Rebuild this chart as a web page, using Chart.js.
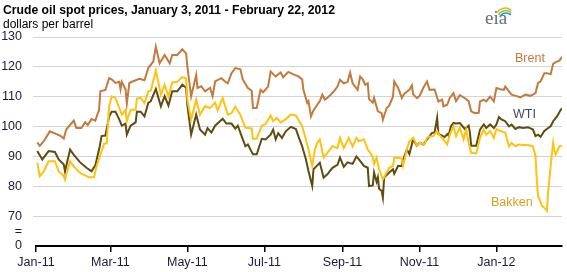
<!DOCTYPE html>
<html>
<head>
<meta charset="utf-8">
<script src="https://cdn.jsdelivr.net/npm/chart.js@4.4.0/dist/chart.umd.min.js"></script>
<style>
  body { margin: 0; background: #fff; }
  #wrap { width: 567px; height: 272px; }
</style>
</head>
<body>
<div id="wrap"><canvas id="oilChart" width="567" height="272"></canvas></div>
<script>
// days counted from Jan 1, 2011
const monthDays = [0, 59, 120, 181, 243, 304, 365];
const monthLabels = ['Jan-11', 'Mar-11', 'May-11', 'Jul-11', 'Sep-11', 'Nov-11', 'Jan-12'];
const yTicks = [60, 65, 70, 80, 90, 100, 110, 120, 130];
const yTickLabels = ['0', '=', '70', '80', '90', '100', '110', '120', '130'];

const brentDays = [1, 3, 6, 11, 19, 22, 24, 30, 32, 36, 39, 41, 44, 47, 50, 51, 55, 58, 60, 63, 66, 67, 68, 71, 72, 74, 76, 79, 82, 86,
  89, 93, 95, 98, 102, 106, 108, 112, 116, 119, 120, 123, 127, 128, 131, 134, 138, 140, 142, 147, 150, 152, 155, 158, 162, 164, 168, 171, 172, 175,
  178, 180, 184, 186, 190, 194, 196, 200, 204, 208, 211, 212, 215, 216, 218, 220, 223, 225, 227, 229, 232, 236, 239, 241, 244, 247, 249, 251, 255, 257,
  259, 261, 263, 264, 267, 268, 271, 274, 275, 278, 280, 283, 284, 287, 290, 292, 296, 298, 299, 302, 304, 307, 310, 312, 316, 319, 322, 323, 326, 328,
  331, 333, 336, 340, 343, 345, 348, 351, 352, 355, 357, 360, 363, 365, 368, 371, 372, 375, 377, 381, 384, 388, 392, 396, 398, 400, 403, 405, 408, 410,
  412, 415, 417];
const brentPrice = [94.7, 93.5, 95, 98.4, 97, 96, 99, 102, 99.5, 99.5, 101.5, 100.5, 102.5, 102, 105.6, 111.8, 112.3, 116.2, 115.8, 114.6, 115, 112.5, 115, 112.5, 107.7, 114.6, 115, 115.5, 116, 115.5,
  119.6, 121.8, 126.8, 121.2, 124, 121.2, 124, 124, 125.9, 124.5, 120.1, 110.1, 117.3, 112.9, 113.5, 111.8, 113, 110.2, 115.1, 116.2, 115, 114.5, 117.9, 119.6, 119.2, 115.7, 112.9, 112, 106.2, 106.2,
  112.3, 111.5, 113.4, 118.4, 116.8, 118.1, 116.5, 118.3, 117.5, 116.8, 115.8, 112.3, 107.9, 108.5, 103.4, 105.5, 107.3, 108.5, 110.7, 109, 110, 111.7, 113.4, 115.7, 114.5, 114.9, 118.1, 114.5, 112.3, 116.8,
  115.8, 114, 114.5, 109.2, 108, 109.6, 105.1, 104.5, 102.3, 106.2, 107, 110, 115.1, 113, 109.6, 111, 112.3, 113.8, 110.8, 109.5, 110.2, 112.9, 115.1, 112.3, 112.4, 108.4, 109, 106.8, 107.3, 109.6,
  111.2, 108.5, 110.5, 109.5, 108.5, 105.1, 104.5, 104.6, 108.4, 109, 108.4, 110, 108.4, 112.9, 112.5, 112.3, 113.4, 111.8, 110.7, 110.2, 109.8, 110.7, 110.3, 111.2, 114.6, 115.1, 117.9, 117.9, 117.5, 121,
  121.6, 122.1, 123.4];

const wtiDays = [1, 5, 10, 15, 18, 22, 23, 27, 30, 35, 40, 44, 47, 50, 52, 55, 58, 60, 63, 66, 68, 71, 72, 75, 79, 80, 83, 86, 89,
  91, 95, 99, 102, 105, 108, 112, 116, 119, 120, 123, 127, 130, 134, 136, 139, 142, 148, 151, 155, 158, 160, 163, 166, 168, 172, 175, 179, 182, 186,
  188, 190, 192, 195, 198, 202, 206, 208, 211, 214, 216, 219, 220, 223, 225, 228, 231, 235, 239, 241, 244, 247, 251, 254, 256, 260, 263, 264, 267, 268,
  270, 271, 272, 274, 275, 276, 280, 283, 284, 287, 290, 291, 294, 296, 299, 302, 304, 307, 311, 314, 316, 318, 319, 322, 324, 326, 327, 329, 331, 333,
  336, 340, 343, 344, 345, 349, 352, 355, 357, 360, 363, 365, 367, 369, 372, 375, 377, 380, 383, 386, 390, 394, 396, 398, 400, 403, 405, 408, 410, 413,
  416, 417];
const wtiPrice = [91.8, 89, 91.8, 91.5, 89, 87.3, 85, 92.3, 90.5, 88, 86.2, 85, 87, 92.3, 96.8, 97, 103.4, 105, 105, 102.4, 100.3, 101, 97.3, 100.3, 101.4, 105, 105, 103.4, 107.9,
  108.5, 112.6, 106.8, 110.2, 107, 111.8, 111.8, 114, 113, 107.3, 97.3, 104, 99, 97.3, 99.5, 98, 100.3, 102.6, 101, 101, 99.3, 100.3, 96.8, 93.4, 94, 90.7, 90.7, 95.9, 95.7, 97.3,
  99, 95.7, 97.8, 96.2, 98.4, 99.9, 99.2, 96.8, 93.4, 89, 85.1, 80.1, 85.7, 87, 87.9, 82.9, 84, 86.2, 87.2, 89.6, 86.5, 88, 87.5, 90, 89, 86.8, 86.2, 80.1, 80.3, 84.6,
  81.5, 83, 79.2, 78.5, 76.2, 82.9, 84.6, 85.7, 84.2, 86.8, 86.8, 88.8, 92.3, 90.8, 95.7, 93.6, 94.6, 94, 96.2, 97.9, 98, 102.9, 97.5, 97, 96.5, 97.5, 97, 100.1, 101.2, 101,
  101.2, 99.2, 100.3, 98, 93.6, 93.6, 99, 100.7, 99.5, 100.7, 99.5, 100.7, 103.2, 102.4, 101.8, 100.1, 100.7, 99.2, 99.8, 99.5, 99.8, 99, 96.8, 97.3, 96.6, 98.5, 99.2, 100.1, 101.8, 103.4,
  105.6, 106.1];

const bakkenDays = [1, 3, 6, 10, 15, 18, 22, 23, 27, 30, 35, 42, 46, 48, 51, 54, 56, 58, 60, 63, 66, 68, 71, 72, 75, 79, 80, 83, 86,
  89, 91, 95, 99, 102, 105, 108, 112, 116, 119, 120, 123, 127, 130, 134, 138, 142, 144, 148, 152, 155, 158, 162, 164, 166, 171, 172, 175, 179, 182,
  186, 188, 191, 194, 198, 202, 206, 208, 211, 214, 216, 219, 221, 223, 225, 228, 231, 235, 239, 241, 244, 248, 251, 254, 256, 260, 263, 265, 267, 268,
  270, 272, 275, 278, 280, 283, 284, 287, 290, 291, 294, 296, 299, 302, 304, 308, 310, 312, 315, 318, 319, 323, 326, 328, 331, 333, 336, 339, 341, 343,
  345, 349, 352, 355, 357, 360, 363, 365, 368, 372, 375, 377, 380, 383, 386, 390, 394, 396, 397, 398, 401, 404, 405, 406, 408, 410, 411, 412, 415, 417];
const bakkenPrice = [87.9, 83.4, 84.9, 88.4, 88.4, 85, 83.4, 82.2, 88.4, 86.6, 84.5, 83, 83, 86.7, 90.5, 94.3, 94.3, 106.8, 110.1, 109.6, 106.3, 104, 105.6, 101.8, 105.6, 105.6, 109.4, 109.6, 107.9,
  111.8, 112, 118.8, 110.7, 114, 110.1, 114.8, 115, 116.6, 116.2, 109, 102.3, 109, 104, 106.8, 106.2, 108, 105.5, 109.6, 104, 104.5, 106.7, 104, 101.7, 99.6, 99.4, 95.9, 95.9, 100.3, 100.8,
  103.7, 101.8, 102.9, 101.3, 102.5, 104, 103.7, 102.4, 100.1, 95.7, 92.3, 86.8, 92.3, 94.5, 95.7, 89.6, 91.2, 93.4, 92.8, 96.2, 92.8, 96.2, 93.3, 96.2, 95.1, 95.7, 92.3, 91.2, 89.6, 87.4,
  89.6, 85.7, 82.3, 84.6, 86.2, 86.8, 89.5, 89.6, 89.2, 86.8, 92.3, 95.1, 96.2, 93.6, 94.6, 94, 96.2, 96.7, 96.8, 98.5, 97.5, 95.7, 94, 97.3, 100.1, 96.8, 99.6, 95.7, 99, 94.6,
  91.2, 91, 96.2, 99, 97.3, 98.5, 96.2, 99.2, 98.5, 98, 93.4, 94.5, 93.4, 94, 93.8, 93.8, 93.4, 90.1, 82.3, 76.8, 73.5, 72.4, 71.8, 78, 86.8, 94.6, 92, 90.7, 93.4, 93.5];

const toPoints = (days, vals) => days.map((d, i) => ({ x: d, y: vals[i] }));

const textPlugin = {
  id: 'annotations',
  afterDraw(chart) {
    const ctx = chart.ctx;
    ctx.save();
    ctx.textBaseline = 'alphabetic';
    ctx.textAlign = 'left';
    ctx.fillStyle = '#000';
    ctx.font = 'bold 12.2px "Liberation Sans", Arial, sans-serif';
    ctx.fillText('Crude oil spot prices, January 3, 2011 - February 22, 2012', 3, 14);
    ctx.font = '12px "Liberation Sans", Arial, sans-serif';
    ctx.fillText('dollars per barrel', 3, 27.5);

    ctx.font = '12.5px "Liberation Sans", Arial, sans-serif';
    ctx.fillStyle = '#c47a3c';
    ctx.fillText('Brent', 515, 62);
    ctx.fillStyle = '#44465a';
    ctx.fillText('WTI', 513, 118);
    ctx.fillStyle = '#d6a21c';
    ctx.fillText('Bakken', 491, 206);

    // eia logo
    ctx.fillStyle = '#6d6e71';
    ctx.font = '19px "Liberation Serif", serif';
    ctx.fillText('eia', 485, 24);
    const arcs = [['#f6b220', 9], ['#8cc63e', 8], ['#1a9fd9', 7]];
    arcs.forEach(([c, r], i) => {
      ctx.strokeStyle = c;
      ctx.lineWidth = 1.6;
      ctx.beginPath();
      ctx.arc(505 + i * 0.5, 17 + i * 1.5, r, 1.15 * Math.PI, 1.75 * Math.PI);
      ctx.stroke();
    });
    ctx.restore();
  }
};

new Chart(document.getElementById('oilChart').getContext('2d'), {
  type: 'line',
  data: {
    datasets: [
      { label: 'Brent', data: toPoints(brentDays, brentPrice), borderColor: '#c47a3c', order: 2 },
      { label: 'WTI', data: toPoints(wtiDays, wtiPrice), borderColor: '#5e4c10', order: 1 },
      { label: 'Bakken', data: toPoints(bakkenDays, bakkenPrice), borderColor: '#ffc20e', order: 0 }
    ]
  },
  options: {
    responsive: false,
    animation: false,
    events: [],
    layout: { padding: { top: 37, right: 5, left: 0, bottom: 0 } },
    elements: {
      line: { borderWidth: 2, tension: 0, fill: false },
      point: { radius: 0 }
    },
    plugins: {
      legend: { display: false },
      tooltip: { enabled: false },
      title: { display: false }
    },
    scales: {
      x: {
        type: 'linear',
        min: 0,
        max: 417,
        afterBuildTicks: (scale) => { scale.ticks = monthDays.map(v => ({ value: v })); },
        afterFit: (scale) => { scale.height = 26; },
        ticks: {
          autoSkip: false,
          maxRotation: 0,
          padding: 3,
          color: '#1a1a3a',
          font: { family: '"Liberation Sans", Arial, sans-serif', size: 12.5 },
          callback: (value, index) => monthLabels[index]
        },
        grid: { drawOnChartArea: false, drawTicks: true, tickLength: 6, color: '#000', lineWidth: 1.5 },
        border: { display: true, color: '#000', width: 2 }
      },
      y: {
        type: 'linear',
        min: 60,
        max: 130,
        afterBuildTicks: (scale) => { scale.ticks = yTicks.map(v => ({ value: v })); },
        afterFit: (scale) => { scale.width = 36; },
        ticks: {
          padding: 11,
          color: '#1a1a3a',
          font: { family: '"Liberation Sans", Arial, sans-serif', size: 12.5 },
          callback: (value, index) => yTickLabels[index]
        },
        grid: {
          tickLength: 3,
          lineWidth: 1,
          color: (c) => (c.tick && (c.tick.value === 65 || c.tick.value === 60)) ? 'rgba(0,0,0,0)' : '#d4d4d4'
        },
        border: { display: false }
      }
    }
  },
  plugins: [textPlugin]
});
</script>
</body>
</html>
